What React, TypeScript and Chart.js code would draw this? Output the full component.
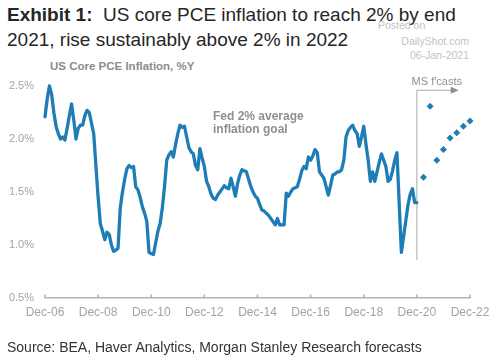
import React, { useEffect, useRef } from "react";
import { Chart, registerables } from "chart.js";

Chart.register(...registerables);

// Monthly US core PCE inflation, %Y, Dec-2006 .. Dec-2020
const actualStart = "Dec-06";
const actualValues = [
  2.21,
  2.38, 2.5, 2.42, 2.25, 2.12, 2.05, 2.0, 2.02, 1.99, 2.1, 2.22, 2.33,
  2.18, 2.0, 2.1, 2.13, 2.13, 2.22, 2.27, 2.25, 2.15, 2.05, 1.75, 1.45,
  1.2, 1.13, 1.05, 1.12, 1.1, 1.0, 0.94, 0.95, 0.97, 1.35, 1.5, 1.62,
  1.72, 1.75, 1.73, 1.74, 1.55, 1.52, 1.45, 1.36, 1.3, 1.22, 0.93, 0.92,
  0.91, 1.02, 1.13, 1.2, 1.35, 1.55, 1.8, 1.85, 1.88, 1.83, 1.95, 2.05,
  2.13, 2.11, 2.12, 2.02, 1.92, 1.88, 1.86, 1.75, 1.71, 1.91, 1.82, 1.74,
  1.6, 1.55, 1.48, 1.44, 1.43, 1.47, 1.5, 1.53, 1.56, 1.54, 1.53, 1.63,
  1.55, 1.46, 1.58, 1.66, 1.71, 1.7, 1.69, 1.62, 1.55, 1.5, 1.46, 1.44,
  1.38, 1.33, 1.32, 1.3, 1.28, 1.25, 1.22, 1.19, 1.25, 1.19, 1.19, 1.19,
  1.49, 1.46, 1.5, 1.53, 1.54, 1.55, 1.62, 1.7, 1.74, 1.72, 1.83, 1.8,
  1.84, 1.9, 1.87, 1.69, 1.66, 1.63, 1.55, 1.47, 1.56, 1.66, 1.67, 1.69,
  1.69, 1.71, 1.8, 2.02, 2.08, 2.11, 2.13, 2.08, 2.05, 1.93, 2.02, 2.12,
  1.95, 1.8, 1.6, 1.69, 1.6, 1.69, 1.78, 1.86, 1.8, 1.74, 1.6, 1.62,
  1.7, 1.8, 1.87, 1.4, 0.93, 1.08, 1.23, 1.38, 1.48, 1.53, 1.4, 1.4,
];

// Morgan Stanley quarterly forecasts
const forecastDates = ["Mar-21", "Jun-21", "Sep-21", "Dec-21", "Mar-22", "Jun-22", "Sep-22", "Dec-22"];
const forecastValues = [1.64, 2.31, 1.8, 1.9, 2.01, 2.06, 2.12, 2.17];

const xTickLabels = ["Dec-06", "Dec-08", "Dec-10", "Dec-12", "Dec-14", "Dec-16", "Dec-18", "Dec-20", "Dec-22"];
const yTicks = [0.5, 1.0, 1.5, 2.0, 2.5];

const forecastStartLabel = "Dec-20";
const arrowEndLabel = "Jun-22";

const MONTHS = ["Jan", "Feb", "Mar", "Apr", "May", "Jun", "Jul", "Aug", "Sep", "Oct", "Nov", "Dec"];
const monthIndex = (label: string) => {
  const [mon, yy] = label.split("-");
  return (2000 + Number(yy)) * 12 + MONTHS.indexOf(mon);
};
const BASE = monthIndex(actualStart);
const mi = (label: string) => monthIndex(label) - BASE;

const BLUE = "#1e7db5";
const FONT = '"Liberation Sans", Arial, Helvetica, sans-serif';

const markerPlugin = {
  id: "forecastMarker",
  beforeDatasetsDraw(chart: any) {
    const { ctx, scales } = chart;
    const x = scales.x;
    const y = scales.y;
    const px = x.getPixelForValue(mi(forecastStartLabel));
    const top = y.getPixelForValue(2.46);
    const bottom = y.getPixelForValue(0.86);
    const arrowEnd = x.getPixelForValue(mi(arrowEndLabel));
    ctx.save();
    ctx.strokeStyle = "#a8a8a8";
    ctx.lineWidth = 1;
    ctx.beginPath();
    ctx.moveTo(px, bottom);
    ctx.lineTo(px, top);
    ctx.lineTo(arrowEnd - 4, top);
    ctx.stroke();
    ctx.fillStyle = "#8c8c8c";
    ctx.beginPath();
    ctx.moveTo(arrowEnd + 2, top);
    ctx.lineTo(arrowEnd - 6, top - 3.5);
    ctx.lineTo(arrowEnd - 6, top + 3.5);
    ctx.closePath();
    ctx.fill();
    ctx.fillStyle = "#8f8f8f";
    ctx.font = "11px " + FONT;
    ctx.textAlign = "center";
    ctx.textBaseline = "alphabetic";
    ctx.fillText("MS f'casts", (px + arrowEnd) / 2, top - 5);
    // small x-axis tick marks
    const axisY = y.getPixelForValue(yTicks[0]);
    ctx.strokeStyle = "#b0b0b0";
    ctx.lineWidth = 1.5;
    xTickLabels.forEach((lab) => {
      const tx = x.getPixelForValue(mi(lab));
      ctx.beginPath();
      ctx.moveTo(tx, axisY - 3.5);
      ctx.lineTo(tx, axisY);
      ctx.stroke();
    });
    ctx.restore();
  },
};

export default function App() {
  const ref = useRef<HTMLCanvasElement | null>(null);

  useEffect(() => {
    if (!ref.current) return;
    const actual = actualValues.map((v, i) => ({ x: i, y: v }));
    const forecast = forecastValues.map((v, i) => ({ x: mi(forecastDates[i]), y: v }));
    const chart = new Chart(ref.current, {
      type: "line",
      data: {
        datasets: [
          {
            data: actual,
            borderColor: BLUE,
            borderWidth: 3.3,
            pointRadius: 0,
            tension: 0,
            clip: false as any,
            borderJoinStyle: "round",
            borderCapStyle: "round",
          },
          {
            data: forecast,
            showLine: false,
            pointStyle: "rectRot",
            pointRadius: 3.5,
            backgroundColor: BLUE,
            borderColor: BLUE,
            borderWidth: 0,
            clip: false as any,
          },
        ],
      },
      options: {
        responsive: false,
        animation: false,
        events: [],
        layout: { padding: { left: 0, right: 30, top: 86, bottom: 0 } },
        plugins: { legend: { display: false }, tooltip: { enabled: false } },
        scales: {
          x: {
            type: "linear",
            min: 0,
            max: mi(xTickLabels[xTickLabels.length - 1]),
            afterBuildTicks: (s: any) => {
              s.ticks = xTickLabels.map((l) => ({ value: mi(l) }));
            },
            afterFit: (s: any) => {
              s.height = 64;
            },
            ticks: {
              autoSkip: false,
              maxRotation: 0,
              padding: 7,
              color: "#a3a3a3",
              font: { size: 12, family: FONT },
              callback: (_v: any, i: number) => xTickLabels[i],
            },
            grid: { display: false, drawTicks: false },
            border: { display: true, color: "#b3b3b3", width: 1.5 },
          },
          y: {
            min: yTicks[0],
            max: yTicks[yTicks.length - 1],
            afterBuildTicks: (s: any) => {
              s.ticks = yTicks.map((v) => ({ value: v }));
            },
            afterFit: (s: any) => {
              s.width = 45;
            },
            ticks: {
              padding: 11,
              color: "#a3a3a3",
              font: { size: 11, family: FONT },
              callback: (v: any) => Number(v).toFixed(1) + "%",
            },
            grid: { display: false, drawTicks: false },
            border: { display: false },
          },
        },
      },
      plugins: [markerPlugin],
    });
    return () => chart.destroy();
  }, []);

  const abs = (s: React.CSSProperties): React.CSSProperties => ({
    position: "absolute",
    whiteSpace: "nowrap",
    fontFamily: FONT,
    margin: 0,
    ...s,
  });

  return (
    <div style={{ position: "absolute", left: 0, top: 0, width: 500, height: 362, background: "#fff", overflow: "hidden" }}>
      <div style={abs({ left: 7, top: 2, fontSize: 19, lineHeight: "25px", color: "#262626" })}>
        <div>
          <b>Exhibit 1:</b>&nbsp; US core PCE inflation to reach 2% by end
        </div>
        <div>2021, rise sustainably above 2% in 2022</div>
      </div>
      <div style={abs({ left: 378, top: 20, fontSize: 10.5, lineHeight: "10.5px", color: "#c2c2c2" })}>Posted on</div>
      <div style={abs({ right: 31, top: 36, fontSize: 10.5, lineHeight: "10.5px", color: "#c2c2c2" })}>DailyShot.com</div>
      <div style={abs({ right: 31, top: 50, fontSize: 10.5, lineHeight: "10.5px", color: "#c2c2c2" })}>06-Jan-2021</div>
      <div style={abs({ left: 50, top: 60.5, fontSize: 11.5, lineHeight: "11.5px", fontWeight: "bold", color: "#8c8c8c" })}>
        US Core PCE Inflation, %Y
      </div>
      <canvas ref={ref} width={500} height={362} style={{ position: "absolute", left: 0, top: 0, display: "block" }} />
      <div style={abs({ left: 213, top: 109.5, fontSize: 12, lineHeight: "13.5px", fontWeight: "bold", color: "#8f8f8f" })}>
        <div>Fed 2% average</div>
        <div>inflation goal</div>
      </div>
      <div style={abs({ left: 7, top: 340, fontSize: 14, lineHeight: "14px", color: "#333333" })}>
        Source: BEA, Haver Analytics, Morgan Stanley Research forecasts
      </div>
    </div>
  );
}
